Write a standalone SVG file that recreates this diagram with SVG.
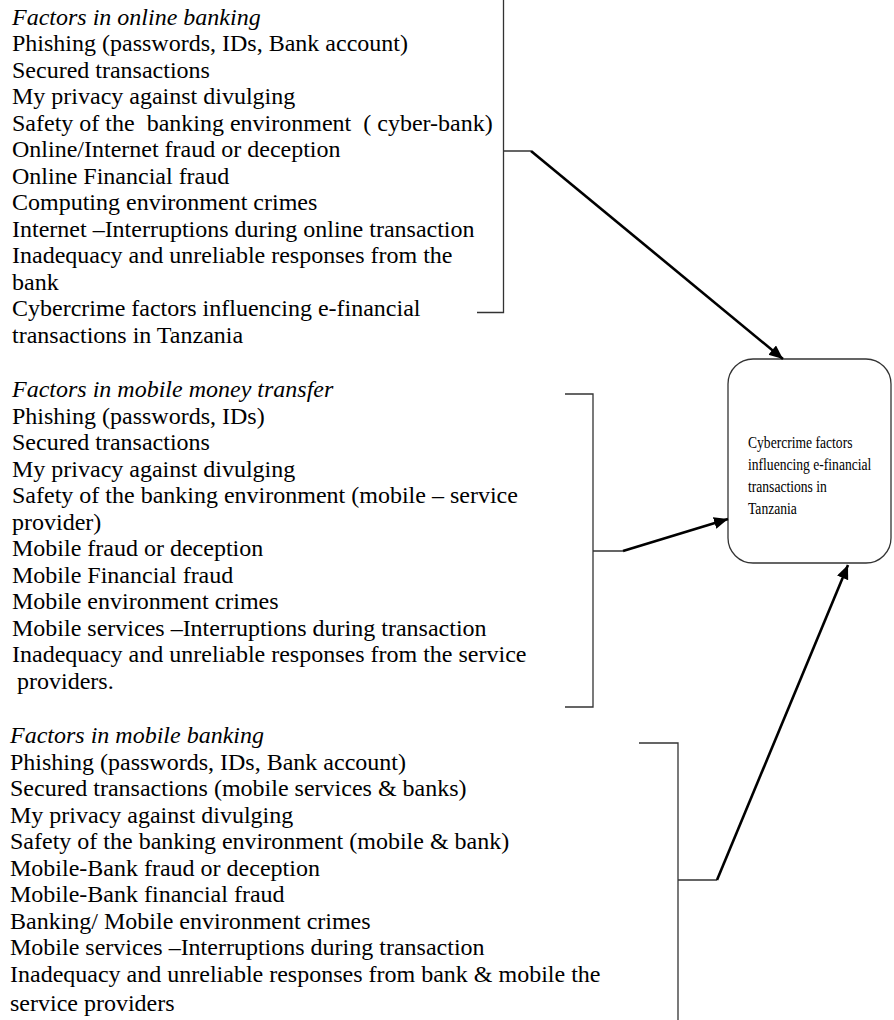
<svg xmlns="http://www.w3.org/2000/svg" width="894" height="1020" viewBox="0 0 894 1020">
<style>
text{font-family:"Liberation Serif","Times New Roman",serif;fill:#000}
.t{font-size:24px}
.h{font-size:24px;font-style:italic}
.bk{fill:none;stroke:#333;stroke-width:1.3}
.ar{fill:none;stroke:#000;stroke-width:2.6}
.box{fill:#fff;stroke:#333;stroke-width:1.3}
.bt{font-size:17px}
</style>
<defs>
<marker id="ah" markerUnits="userSpaceOnUse" markerWidth="15" markerHeight="13" refX="14" refY="6" orient="auto">
<path d="M0,0 L14,6 L0,12 z" fill="#000"/>
</marker>
</defs>
<g id="online-banking">
<text class="h" x="12" y="24.5">Factors in online banking</text>
<text class="t" x="12" y="51">Phishing (passwords, IDs, Bank account)</text>
<text class="t" x="12" y="77.5">Secured transactions</text>
<text class="t" x="12" y="104">My privacy against divulging</text>
<text class="t" x="12" y="130.5" xml:space="preserve">Safety of the  banking environment  ( cyber-bank)</text>
<text class="t" x="12" y="157">Online/Internet fraud or deception</text>
<text class="t" x="12" y="183.5">Online Financial fraud</text>
<text class="t" x="12" y="210">Computing environment crimes</text>
<text class="t" x="12" y="236.5">Internet –Interruptions during online transaction</text>
<text class="t" x="12" y="263">Inadequacy and unreliable responses from the</text>
<text class="t" x="12" y="289.5">bank</text>
<text class="t" x="12" y="316">Cybercrime factors influencing e-financial</text>
<text class="t" x="12" y="342.5">transactions in Tanzania</text>
<path class="bk" d="M503.5,0 V312.5 H477 M503.5,151 H531"/>
</g>
<g id="mobile-money">
<text class="h" x="12" y="397">Factors in mobile money transfer</text>
<text class="t" x="12" y="423.5">Phishing (passwords, IDs)</text>
<text class="t" x="12" y="450">Secured transactions</text>
<text class="t" x="12" y="476.5">My privacy against divulging</text>
<text class="t" x="12" y="503">Safety of the banking environment (mobile – service</text>
<text class="t" x="12" y="529.5">provider)</text>
<text class="t" x="12" y="556">Mobile fraud or deception</text>
<text class="t" x="12" y="582.5">Mobile Financial fraud</text>
<text class="t" x="12" y="609">Mobile environment crimes</text>
<text class="t" x="12" y="635.5">Mobile services –Interruptions during transaction</text>
<text class="t" x="12" y="662">Inadequacy and unreliable responses from the service</text>
<text class="t" x="17" y="688.5">providers.</text>
<path class="bk" d="M565,394 H593 V707 H565 M593,551 H623"/>
</g>
<g id="mobile-banking">
<text class="h" x="10" y="743">Factors in mobile banking</text>
<text class="t" x="10" y="769.5">Phishing (passwords, IDs, Bank account)</text>
<text class="t" x="10" y="796">Secured transactions (mobile services &amp; banks)</text>
<text class="t" x="10" y="822.5">My privacy against divulging</text>
<text class="t" x="10" y="849">Safety of the banking environment (mobile &amp; bank)</text>
<text class="t" x="10" y="875.5">Mobile-Bank fraud or deception</text>
<text class="t" x="10" y="902">Mobile-Bank financial fraud</text>
<text class="t" x="10" y="928.5">Banking/ Mobile environment crimes</text>
<text class="t" x="10" y="955">Mobile services –Interruptions during transaction</text>
<text class="t" x="10" y="981.5">Inadequacy and unreliable responses from bank &amp; mobile the</text>
<text class="t" x="10" y="1011">service providers</text>
<path class="bk" d="M639,743 H678 V1020 M678,880 H717"/>
</g>
<g id="outcome">
<rect class="box" x="728" y="359" width="163" height="204" rx="25" ry="25"/>
<g transform="translate(748,0) scale(0.8,1)">
<text class="bt" x="0" y="448">Cybercrime factors</text>
<text class="bt" x="0" y="470">influencing e-financial</text>
<text class="bt" x="0" y="492">transactions in</text>
<text class="bt" x="0" y="514">Tanzania</text>
</g>
</g>
<g id="connectors">
<line class="ar" x1="531" y1="151" x2="783" y2="359" marker-end="url(#ah)"/>
<line class="ar" x1="623" y1="551" x2="728" y2="519" marker-end="url(#ah)"/>
<line class="ar" x1="717" y1="880" x2="848" y2="565" marker-end="url(#ah)"/>
</g>
</svg>
